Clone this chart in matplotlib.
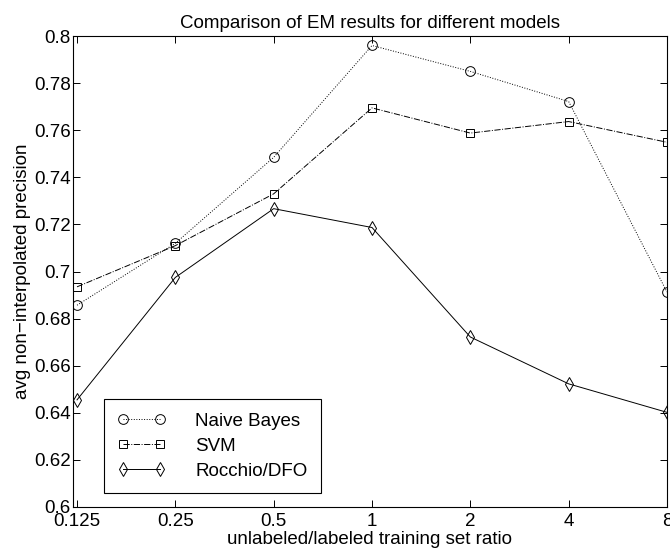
import matplotlib.pyplot as plt
from matplotlib.ticker import FixedLocator, NullLocator

plt.rcParams['font.family'] = ['Liberation Sans', 'DejaVu Sans']

ratios = [0.125, 0.25, 0.5, 1, 2, 4, 8]
tick_labels = ["0.125", "0.25", "0.5", "1", "2", "4", "8"]

naive_bayes = [0.6857, 0.712, 0.7485, 0.796, 0.785, 0.7722, 0.6913]
svm = [0.6935, 0.711, 0.733, 0.7695, 0.7588, 0.7637, 0.7549]
rocchio = [0.6455, 0.6975, 0.7267, 0.7187, 0.6722, 0.6523, 0.6402]

fs = 13.5

fig = plt.figure(figsize=(6.7, 5.55), dpi=100)
ax = fig.add_axes([0.1085, 0.0865, 0.887, 0.8485])

ax.plot(ratios, naive_bayes, color='black', linestyle=':', linewidth=0.7,
        marker='o', markersize=7, markerfacecolor='none', markeredgewidth=0.7,
        label='Naive Bayes')
ax.plot(ratios, svm, color='black', linestyle='-.', linewidth=0.7,
        marker='s', markersize=5.5, markerfacecolor='none', markeredgewidth=0.7,
        label='SVM')
ax.plot(ratios, rocchio, color='black', linestyle='-', linewidth=0.7,
        marker='d', markersize=7.5, markerfacecolor='none', markeredgewidth=0.7,
        label='Rocchio/DFO')

ax.set_xscale('log', base=2)
ax.xaxis.set_major_locator(FixedLocator(ratios))
ax.xaxis.set_minor_locator(NullLocator())
ax.set_xticklabels(tick_labels)
ax.set_xlim(0.125 * 2 ** -0.044, 8)
ax.set_ylim(0.6, 0.8)
ax.set_yticks([0.6 + 0.02 * i for i in range(11)])
ax.set_yticklabels(["0.6", "0.62", "0.64", "0.66", "0.68", "0.7",
                    "0.72", "0.74", "0.76", "0.78", "0.8"])

ax.tick_params(direction='in', top=True, right=True, length=5, width=0.7,
               labelsize=fs, pad=1.5)
ax.tick_params(axis='x', pad=4)
for s in ax.spines.values():
    s.set_linewidth(0.8)

ax.set_title("Comparison of EM results for different models", fontsize=fs, pad=6)
ax.set_xlabel("unlabeled/labeled training set ratio", fontsize=fs, labelpad=1)
ax.set_ylabel("avg non\u2212interpolated precision", fontsize=fs, labelpad=2)

leg = ax.legend(loc='lower left', numpoints=2, handlelength=2.55, fontsize=fs,
                fancybox=False, framealpha=1, edgecolor='black',
                borderpad=0.7, labelspacing=0.42, handletextpad=1.6,
                borderaxespad=0, bbox_to_anchor=(0.053, 0.03))
leg.get_frame().set_linewidth(0.8)

fig.savefig("out.png", dpi=100)
